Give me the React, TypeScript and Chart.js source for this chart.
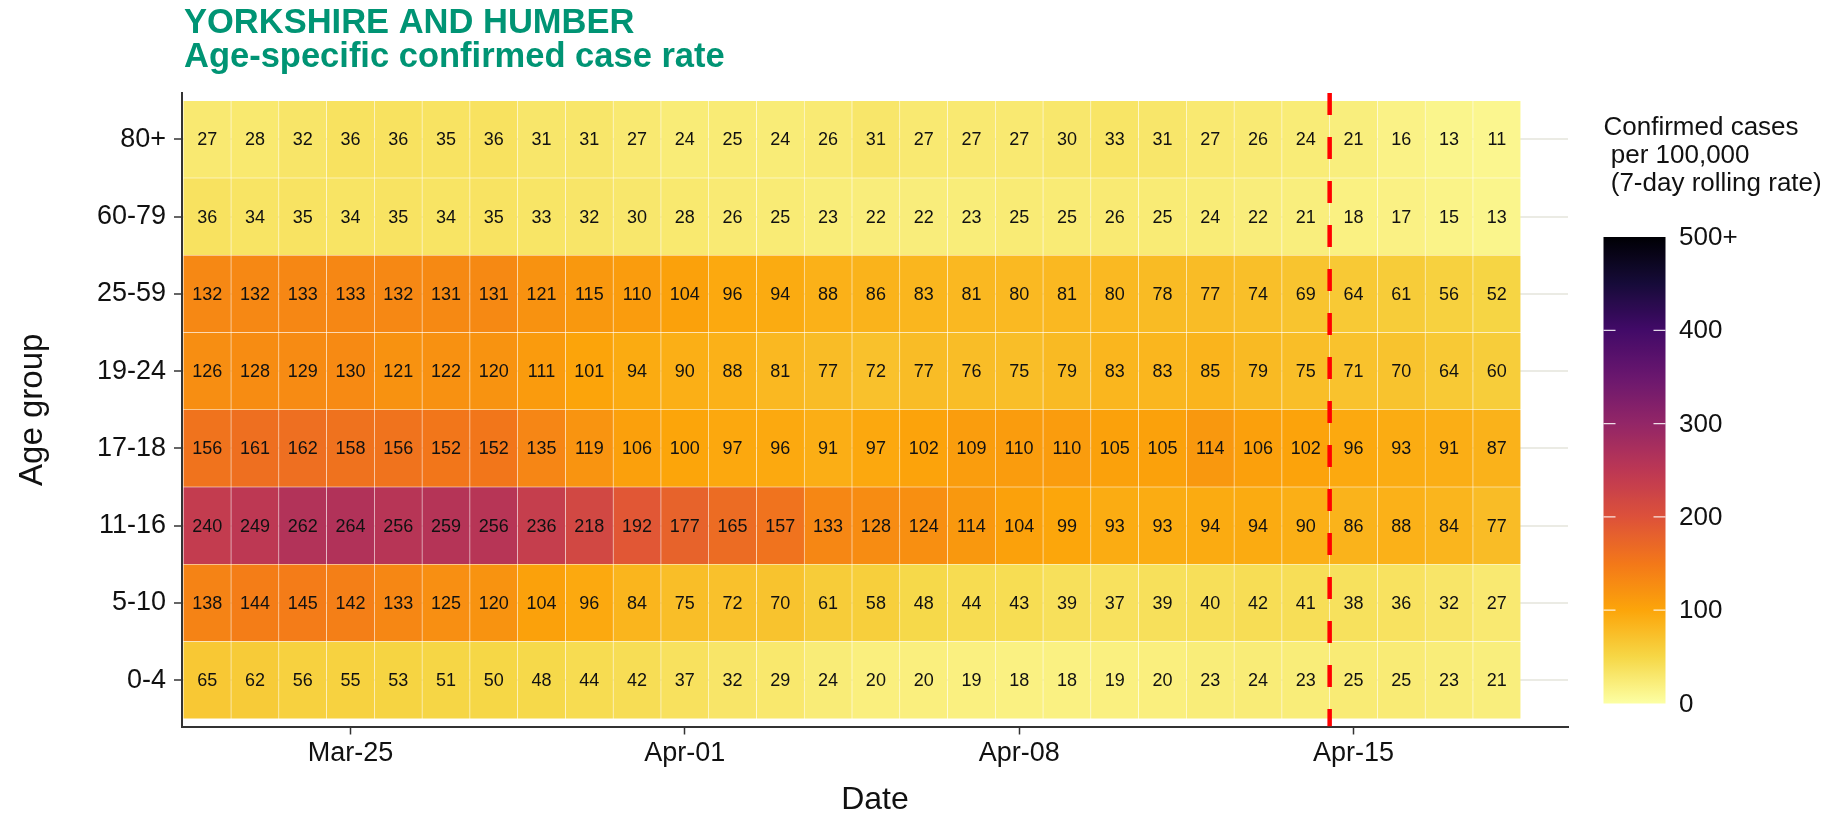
import React, { useEffect, useRef } from "react";
import { Chart, registerables } from "chart.js";

Chart.register(...registerables);

// ---------- DATA ----------
const titleLines = ["YORKSHIRE AND HUMBER", "Age-specific confirmed case rate"];

const dates = [
  "Mar-22", "Mar-23", "Mar-24", "Mar-25", "Mar-26", "Mar-27", "Mar-28",
  "Mar-29", "Mar-30", "Mar-31", "Apr-01", "Apr-02", "Apr-03", "Apr-04",
  "Apr-05", "Apr-06", "Apr-07", "Apr-08", "Apr-09", "Apr-10", "Apr-11",
  "Apr-12", "Apr-13", "Apr-14", "Apr-15", "Apr-16", "Apr-17", "Apr-18",
];

const dateTickLabels = ["Mar-25", "Apr-01", "Apr-08", "Apr-15"];

// bottom to top
const ageGroups = ["0-4", "5-10", "11-16", "17-18", "19-24", "25-59", "60-79", "80+"];

const rate0to4 = [65, 62, 56, 55, 53, 51, 50, 48, 44, 42, 37, 32, 29, 24, 20, 20, 19, 18, 18, 19, 20, 23, 24, 23, 25, 25, 23, 21];
const rate5to10 = [138, 144, 145, 142, 133, 125, 120, 104, 96, 84, 75, 72, 70, 61, 58, 48, 44, 43, 39, 37, 39, 40, 42, 41, 38, 36, 32, 27];
const rate11to16 = [240, 249, 262, 264, 256, 259, 256, 236, 218, 192, 177, 165, 157, 133, 128, 124, 114, 104, 99, 93, 93, 94, 94, 90, 86, 88, 84, 77];
const rate17to18 = [156, 161, 162, 158, 156, 152, 152, 135, 119, 106, 100, 97, 96, 91, 97, 102, 109, 110, 110, 105, 105, 114, 106, 102, 96, 93, 91, 87];
const rate19to24 = [126, 128, 129, 130, 121, 122, 120, 111, 101, 94, 90, 88, 81, 77, 72, 77, 76, 75, 79, 83, 83, 85, 79, 75, 71, 70, 64, 60];
const rate25to59 = [132, 132, 133, 133, 132, 131, 131, 121, 115, 110, 104, 96, 94, 88, 86, 83, 81, 80, 81, 80, 78, 77, 74, 69, 64, 61, 56, 52];
const rate60to79 = [36, 34, 35, 34, 35, 34, 35, 33, 32, 30, 28, 26, 25, 23, 22, 22, 23, 25, 25, 26, 25, 24, 22, 21, 18, 17, 15, 13];
const rate80plus = [27, 28, 32, 36, 36, 35, 36, 31, 31, 27, 24, 25, 24, 26, 31, 27, 27, 27, 30, 33, 31, 27, 26, 24, 21, 16, 13, 11];

const rates = [rate0to4, rate5to10, rate11to16, rate17to18, rate19to24, rate25to59, rate60to79, rate80plus];

const cutoffDate = "Apr-15";

const legendTitleLines = ["Confirmed cases", " per 100,000", " (7-day rolling rate)"];
const legendTicks = [0, 100, 200, 300, 400, 500];
const legendTickLabels = ["0", "100", "200", "300", "400", "500+"];
const colorMax = 500;

// ---------- STYLE ----------
const FONT = "'Liberation Sans', Arial, Helvetica, sans-serif";
const INFERNO = ["#000004", "#160B39", "#420A68", "#6A176E", "#932667", "#BC3754", "#DD513A", "#F37819", "#FCA50A", "#F6D746", "#FCFFA4"];

function hexToRgb(h: string) {
  return [parseInt(h.slice(1, 3), 16), parseInt(h.slice(3, 5), 16), parseInt(h.slice(5, 7), 16)];
}

function colorFor(v: number) {
  const t = 1 - Math.max(0, Math.min(v, colorMax)) / colorMax;
  const pos = t * (INFERNO.length - 1);
  const i = Math.min(Math.floor(pos), INFERNO.length - 2);
  const f = pos - i;
  const a = hexToRgb(INFERNO[i]);
  const b = hexToRgb(INFERNO[i + 1]);
  const c = a.map((av, k) => Math.round(av + (b[k] - av) * f));
  return `rgb(${c[0]},${c[1]},${c[2]})`;
}

const overlayPlugin = {
  id: "overlay",
  afterDatasetsDraw(chart: any) {
    const ctx = chart.ctx;
    ctx.save();
    ctx.font = `18px ${FONT}`;
    ctx.fillStyle = "#111";
    ctx.textAlign = "center";
    ctx.textBaseline = "middle";
    rates.forEach((row, r) => {
      const meta = chart.getDatasetMeta(r + 1);
      meta.data.forEach((el: any, j: number) => {
        const p = el.getCenterPoint();
        ctx.fillText(String(row[j]), p.x, p.y + 1);
      });
    });
    ctx.restore();
  },
  afterDraw(chart: any) {
    const ctx = chart.ctx;
    const ca = chart.chartArea;
    ctx.save();
    // Title
    ctx.fillStyle = "#009474";
    ctx.font = `bold 34.5px ${FONT}`;
    ctx.textAlign = "left";
    ctx.textBaseline = "alphabetic";
    ctx.fillText(titleLines[0], ca.left + 2, 33);
    ctx.fillText(titleLines[1], ca.left + 2, 67);

    // Legend colorbar
    const barLeft = ca.right + 35.5;
    const barW = 62;
    const barTop = 237;
    const barBottom = 703.5;
    ctx.fillStyle = "#111";
    ctx.font = `26px ${FONT}`;
    ctx.textBaseline = "middle";
    legendTitleLines.forEach((line, i) => {
      ctx.fillText(line, barLeft, 128 + i * 28);
    });

    const grad = ctx.createLinearGradient(0, barBottom, 0, barTop);
    for (let k = 0; k <= 50; k++) {
      grad.addColorStop(k / 50, colorFor((colorMax * k) / 50));
    }
    ctx.fillStyle = grad;
    ctx.fillRect(barLeft, barTop, barW, barBottom - barTop);

    legendTicks.forEach((v, i) => {
      const y = barBottom - (v / colorMax) * (barBottom - barTop);
      if (v > 0 && v < colorMax) {
        ctx.strokeStyle = "rgba(255,255,255,0.85)";
        ctx.lineWidth = 1.2;
        ctx.beginPath();
        ctx.moveTo(barLeft, y);
        ctx.lineTo(barLeft + 12, y);
        ctx.moveTo(barLeft + barW - 12, y);
        ctx.lineTo(barLeft + barW, y);
        ctx.stroke();
      }
      ctx.fillStyle = "#111";
      ctx.textAlign = "left";
      ctx.fillText(legendTickLabels[i], barLeft + barW + 13.5, y + 1);
    });
    ctx.restore();
  },
};

export default function App() {
  const canvasRef = useRef<HTMLCanvasElement | null>(null);

  useEffect(() => {
    if (!canvasRef.current) return;
    const cutoffX = dates.indexOf(cutoffDate) - 0.5;
    const yMin = -0.6;
    const yMax = ageGroups.length - 1 + 0.6;

    const barDatasets = rates.map((row, r) => ({
      type: "bar" as const,
      label: ageGroups[r],
      data: row.map((_, j) => ({ x: [j - 0.5, j + 0.5], y: r })),
      backgroundColor: row.map(colorFor),
      borderColor: "rgba(255,255,255,0.14)",
      borderWidth: 0.6,
      borderSkipped: false,
      grouped: false,
      barPercentage: 1,
      categoryPercentage: 1,
      order: 1,
    }));

    const chart = new Chart(canvasRef.current, {
      type: "bar",
      data: {
        datasets: [
          {
            type: "line",
            label: "cutoff",
            data: [
              { x: cutoffX, y: yMax },
              { x: cutoffX, y: yMin },
            ],
            borderColor: "#FF0000",
            borderWidth: 4.5,
            borderDash: [22, 22],
            pointRadius: 0,
            fill: false,
            order: 0,
          } as any,
          ...(barDatasets as any[]),
        ],
      },
      options: {
        indexAxis: "y",
        responsive: false,
        animation: false,
        devicePixelRatio: 1,
        events: [],
        layout: { padding: { top: 93, right: 269, left: 0, bottom: 0 } },
        plugins: {
          legend: { display: false },
          tooltip: { enabled: false },
        },
        scales: {
          x: {
            type: "linear",
            offset: false,
            min: -0.527,
            max: dates.length + 0.49,
            afterBuildTicks: (s: any) => {
              s.ticks = dateTickLabels.map((l) => ({ value: dates.indexOf(l) }));
            },
            afterFit: (s: any) => {
              s.height = 89.5;
            },
            ticks: {
              callback: (v: any) => dates[v] ?? "",
              font: { size: 27, family: FONT },
              color: "#111",
              padding: 3,
              autoSkip: false,
              maxRotation: 0,
            },
            grid: {
              offset: false,
              drawOnChartArea: false,
              drawTicks: true,
              tickLength: 8,
              tickColor: "#333",
              tickWidth: 1.5,
            },
            border: { display: true, color: "#333", width: 2 },
            title: {
              display: true,
              text: "Date",
              color: "#111",
              font: { size: 32, family: FONT, lineHeight: 1 },
              padding: { top: 0, bottom: 0 },
            },
          },
          y: {
            type: "linear",
            offset: false,
            min: yMin,
            max: yMax,
            afterBuildTicks: (s: any) => {
              s.ticks = ageGroups.map((_, i) => ({ value: i }));
            },
            afterFit: (s: any) => {
              s.width = 182;
            },
            ticks: {
              callback: (v: any) => ageGroups[v] ?? "",
              font: { size: 27, family: FONT },
              color: "#111",
              padding: 8,
            },
            grid: {
              offset: false,
              color: "#EBEBE4",
              lineWidth: 2,
              tickColor: "#333",
              tickWidth: 1.5,
              tickLength: 8,
            },
            border: { display: true, color: "#333", width: 2 },
            title: {
              display: true,
              text: "Age group",
              color: "#111",
              font: { size: 33, family: FONT },
              padding: { top: 13, bottom: 0 },
            },
          },
        },
      } as any,
      plugins: [overlayPlugin],
    });

    return () => chart.destroy();
  }, []);

  return (
    <div style={{ position: "absolute", left: 0, top: 0, width: 1837, height: 816, background: "#fff" }}>
      <canvas ref={canvasRef} width={1837} height={816} style={{ display: "block" }} />
    </div>
  );
}
